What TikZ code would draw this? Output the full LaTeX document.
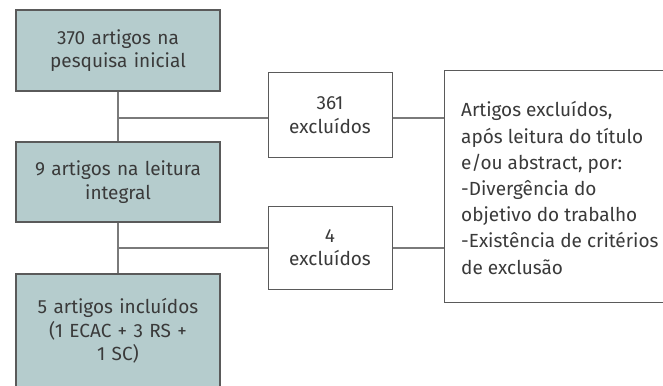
\documentclass[tikz,border=0pt]{standalone}
\usepackage{fontspec}
\setmainfont{Fira Sans}
\definecolor{boxfill}{HTML}{B5CCCD}
\definecolor{txt}{HTML}{3A3A3A}
\definecolor{edge}{HTML}{5A5A5A}
\definecolor{conn}{HTML}{7A7A7A}
\begin{document}
\begin{tikzpicture}[x=1pt,y=-1pt,
  every node/.style={font=\fontsize{19}{23.4}\selectfont, text=txt},
  stage/.style={draw=edge, line width=1.1pt, fill=boxfill, minimum width=204pt, align=center, text width=202pt, inner sep=0pt},
  excl/.style={draw=edge, line width=1pt, fill=white, minimum width=124pt, align=center, text width=120pt, inner sep=0pt},
  link/.style={draw=conn, line width=1.1pt}]
\useasboundingbox (0,0) rectangle (663,385);
\node[stage, minimum height=81pt] (b1) at (118,50.5) {370 artigos na\\pesquisa inicial};
\node[stage, minimum height=80pt] (b2) at (118,182) {9 artigos na leitura\\integral};
\node[stage, minimum height=114pt] (b3) at (118,331) {5 artigos incluídos\\(1 ECAC + 3 RS +\\1 SC)};
\node[excl, minimum height=84pt] (e1) at (330,115) {361\\excluídos};
\node[excl, minimum height=83pt] (e2) at (330,247.5) {4\\excluídos};
\node[draw=edge, line width=1pt, fill=white, minimum width=236pt, minimum height=231pt, inner sep=0pt] (r) at (562,186.5) {};
\node[anchor=north west, align=left, inner sep=0pt, font=\fontsize{19}{26.2}\selectfont] (rt) at (461,101.5) {Artigos excluídos,\\após leitura do título\\e/ou abstract, por:\\-Divergência do\\objetivo do trabalho\\-Existência de critérios\\de exclusão};
\coordinate (j1) at (118,118);
\coordinate (j2) at (118,248);
\draw[link] (b1) -- (b2);
\draw[link] (b2) -- (b3);
\draw[link] (j1) -- (e1.west |- j1);
\draw[link] (j2) -- (e2.west |- j2);
\draw[link] (e1.east |- j1) -- (r.west |- j1);
\draw[link] (e2.east |- j2) -- (r.west |- j2);
\end{tikzpicture}
\end{document}
